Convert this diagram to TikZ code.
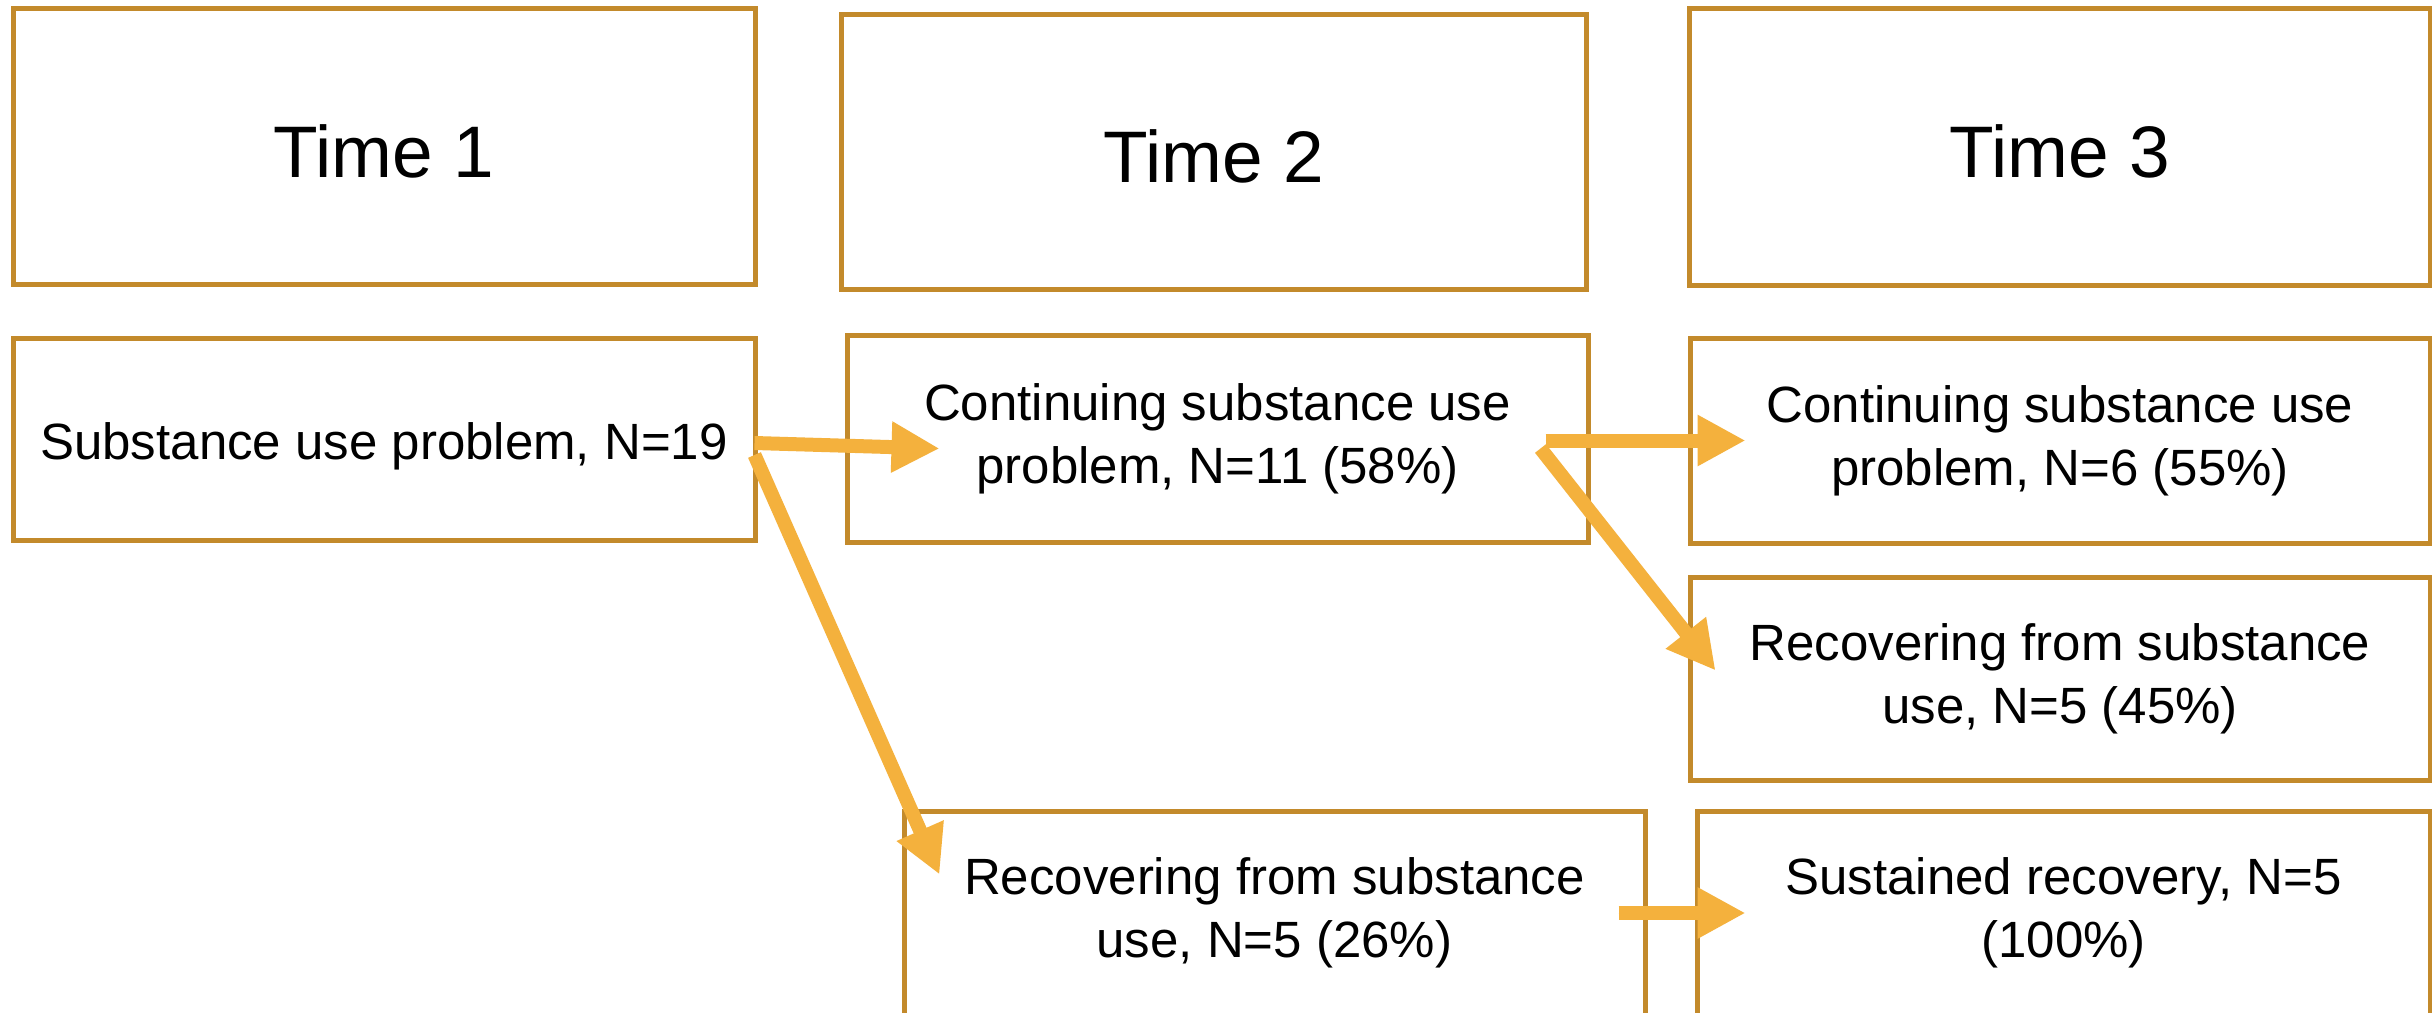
\documentclass[tikz,border=0pt]{standalone}
\usepackage{fontspec}
\setmainfont{Liberation Sans}
\usetikzlibrary{arrows.meta,calc}
\definecolor{boxc}{HTML}{C38A2B}
\definecolor{arrc}{HTML}{F4B13D}
\begin{document}
\begin{tikzpicture}[x=1pt,y=-1pt,
 box/.style={draw=boxc, line width=5pt, inner sep=0pt, align=center, font=\fontsize{51}{63}\selectfont, execute at begin node={\rule{0pt}{52pt}}},
 head/.style={box, font=\fontsize{73}{84}\selectfont, execute at begin node={\rule{0pt}{63pt}}},
 flow/.style={draw=arrc, line width=14pt, -{Triangle[length=48pt,width=48pt]}, fill=arrc}]
\path[use as bounding box, clip] (0,0) rectangle (2432,1012);
\fill[white] (0,0) rectangle (2432,1012);
\node[head, minimum width=742pt, minimum height=276pt] (t1) at (384,146) {Time 1};
\node[head, minimum width=745pt, minimum height=275pt] (t2) at (1213.5,151.5) {Time 2};
\node[head, minimum width=741pt, minimum height=277pt] (t3) at (2059.5,146.5) {Time 3};
\node[box, minimum width=742pt, minimum height=202pt] (sub) at (384,439) {Substance use problem, N=19};
\node[box, minimum width=741pt, minimum height=207pt] (c2) at (1217.5,438.5) {Continuing substance use\\problem, N=11 (58\%)};
\node[box, minimum width=740pt, minimum height=205pt] (c3) at (2060,440.5) {Continuing substance use\\problem, N=6 (55\%)};
\node[box, minimum width=740pt, minimum height=203pt] (r3) at (2060,678.5) {Recovering from substance\\use, N=5 (45\%)};
\node[box, minimum width=741pt, minimum height=204pt] (r2) at (1274.5,913) {Recovering from substance\\use, N=5 (26\%)};
\node[box, minimum width=733pt, minimum height=204pt] (sus) at (2063.5,913) {Sustained recovery, N=5\\(100\%)};
\draw[flow] ($(sub.east)+(-3,4)$) -- ($(c2.west)+(95,10)$);
\draw[flow] ($(sub.east)+(-3,16)$) -- ($(r2.north west)+(38,66)$);
\draw[flow] ($(c2.east)+(-45,2)$) -- ($(c3.west)+(58,0)$);
\draw[flow] ($(c2.east)+(-50,10)$) -- ($(r3.west)+(28,-8)$);
\draw[flow] ($(r2.east)+(-29,0)$) -- ($(sus.west)+(51,0)$);
\end{tikzpicture}
\end{document}
